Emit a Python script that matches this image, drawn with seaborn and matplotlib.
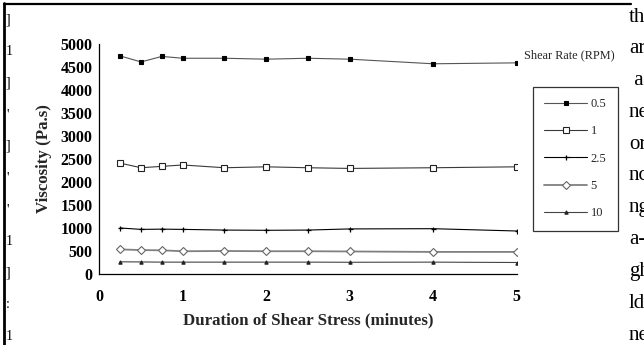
import matplotlib
matplotlib.use("Agg")
import matplotlib.pyplot as plt
from matplotlib.lines import Line2D
import seaborn as sns
import pandas as pd

# ---- data ----
duration = [0.25, 0.5, 0.75, 1, 1.5, 2, 2.5, 3, 4, 5]
rate_labels = ["0.5", "1", "2.5", "5", "10"]
visc_05 = [4740, 4610, 4730, 4690, 4690, 4670, 4690, 4670, 4570, 4590]
visc_1 = [2410, 2310, 2340, 2370, 2310, 2330, 2310, 2295, 2310, 2330]
visc_25 = [1000, 970, 975, 970, 955, 950, 955, 980, 985, 935]
visc_5 = [535, 520, 515, 495, 500, 495, 495, 490, 480, 480]
visc_10 = [265, 262, 258, 258, 258, 258, 258, 255, 258, 250]
series = [visc_05, visc_1, visc_25, visc_5, visc_10]

xticks = [0, 1, 2, 3, 4, 5]
yticks = [0, 500, 1000, 1500, 2000, 2500, 3000, 3500, 4000, 4500, 5000]

right_frag = ["th", "ar", " a", "ne", "or", "nc", "ng", "a-", "gh", "ld", "ne"]
left_frag = ["]", "1", "]", "'", "]", "'", "'", "1", "]", ":", "1"]

rows = []
for lab, vals in zip(rate_labels, series):
    for d, v in zip(duration, vals):
        rows.append({"Duration": d, "Viscosity": v, "Rate": lab})
df = pd.DataFrame(rows)

sns.set_theme(style="white")
plt.rcParams["font.family"] = ["Liberation Serif", "DejaVu Serif"]

fig = plt.figure(figsize=(6.44, 3.45), dpi=100)
fig.patch.set_facecolor("white")
ax = fig.add_axes([99.3 / 644, 1 - 274 / 345, (516.5 - 99.3) / 644, 230 / 345])

styles = {
    "0.5": dict(color="#555555", marker="s", ms=2.2, mfc="black", mec="black", lw=0.8),
    "1": dict(color="#3a3a3a", marker="s", ms=3.8, mfc="white", mec="#222222", mew=0.8, lw=0.8),
    "2.5": dict(color="black", marker="+", ms=3.6, mec="black", mew=0.9, lw=0.8),
    "5": dict(color="#808080", marker="D", ms=3.8, mfc="white", mec="#666666", mew=0.8, lw=1.3),
    "10": dict(color="#444444", marker="^", ms=2.4, mfc="#222222", mec="#222222", lw=0.8),
}

for lab in rate_labels:
    st = styles[lab]
    sub = df[df["Rate"] == lab]
    sns.lineplot(data=sub, x="Duration", y="Viscosity", ax=ax, label=lab,
                 color=st["color"], lw=st["lw"], marker=st["marker"],
                 markersize=st["ms"], markerfacecolor=st.get("mfc", st["color"]),
                 markeredgecolor=st.get("mec", st["color"]),
                 markeredgewidth=st.get("mew", 0.8))

ax.set_xlim(0, 5)
ax.set_ylim(0, 5000)
ax.set_xticks(xticks)
ax.set_yticks(yticks)
ax.set_xticklabels([str(t) for t in xticks], fontweight="bold", fontsize=11.5)
ax.set_yticklabels([str(t) for t in yticks], fontweight="bold", fontsize=11.5)
for sp in ["top", "right"]:
    ax.spines[sp].set_visible(False)
for sp in ["left", "bottom"]:
    ax.spines[sp].set_color("black")
    ax.spines[sp].set_linewidth(0.9)
ax.tick_params(axis="x", direction="inout", length=6, width=0.9, pad=8, colors="black")
ax.tick_params(axis="y", direction="inout", length=6, width=0.9, pad=2, colors="black")
ax.set_facecolor("white")
ax.grid(False)

ax.set_xlabel("Duration of Shear Stress (minutes)", fontweight="bold", fontsize=12.2)
ax.xaxis.set_label_coords(0.5, (274 - 320) / 230)
ax.xaxis.label.set_va("center")
ax.set_ylabel("Viscosity (Pa.s)", fontweight="bold", fontsize=12.2)
ax.yaxis.set_label_coords((44 - 99.3) / 417.2, 0.5)
ax.yaxis.label.set_va("center")

handles, labels = ax.get_legend_handles_labels()
leg = ax.legend(handles, labels, loc="upper left",
                bbox_to_anchor=(533 / 644, 1 - 87 / 345),
                bbox_transform=fig.transFigure, frameon=True, fancybox=False,
                fontsize=9, handlelength=3.4, handletextpad=0.3,
                labelspacing=1.22, borderpad=0.9, borderaxespad=0)
leg.get_frame().set_edgecolor("black")
leg.get_frame().set_linewidth(0.9)
leg.get_frame().set_facecolor("white")

fig.text(524 / 644, 1 - 55 / 345, "Shear Rate (RPM)", fontsize=8.8, va="center", ha="left")

# page frame of the scanned figure
fig.add_artist(Line2D([4 / 644, 631 / 644], [1 - 4 / 345, 1 - 4 / 345],
                      transform=fig.transFigure, color="black", lw=1.6))
fig.add_artist(Line2D([4 / 644, 4 / 644], [0, 1 - 3 / 345],
                      transform=fig.transFigure, color="black", lw=2.0))

for i, t in enumerate(right_frag):
    fig.text(629 / 644, 1 - (17 + i * 31.8) / 345, t, fontsize=15,
             va="center", ha="left", color="black")
for i, t in enumerate(left_frag):
    fig.text(6 / 644, 1 - (20 + i * 31.6) / 345, t, fontsize=10,
             va="center", ha="left", color="black")

fig.savefig("out.png", dpi=100, facecolor="white")
